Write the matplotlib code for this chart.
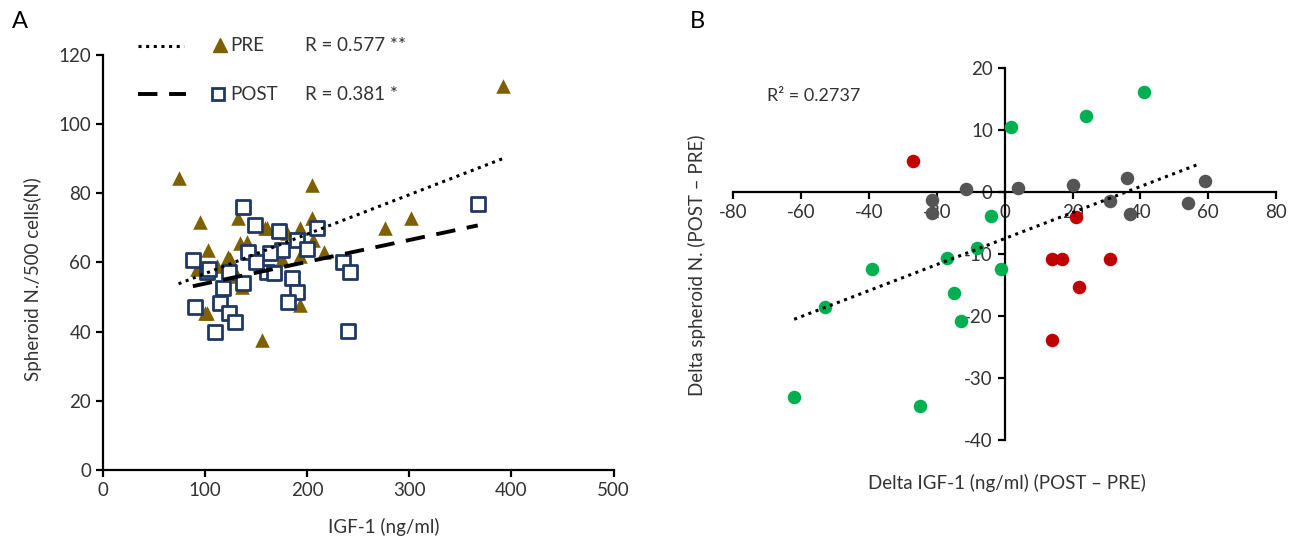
import numpy as np
import matplotlib.pyplot as plt
from matplotlib.lines import Line2D

plt.rcParams['font.family'] = ['Lato', 'DejaVu Sans']
plt.rcParams['font.size'] = 13.5
plt.rcParams['axes.unicode_minus'] = False

# Panel A data: IGF-1 (ng/ml) vs spheroid N./500 cells
pre_igf = [74, 95, 103, 100, 102, 92, 122, 124, 131, 134, 136, 141, 132, 159, 161,
           175, 180, 193, 193, 205, 205, 206, 216, 193, 156, 276, 302, 392, 148, 112]
pre_sph = [84.5, 71.7, 63.6, 45.5, 45.4, 58, 61.6, 61, 56, 65.6, 53, 66, 73, 70, 70,
           61, 68.5, 70, 47.7, 82.5, 73, 66.5, 63, 62, 37.6, 70, 73, 111, 63, 59]
post_igf = [137, 149, 172, 210, 190, 200, 175, 164, 142, 88, 102, 123, 161, 137, 118,
            185, 190, 181, 115, 90, 123, 129, 110, 235, 242, 240, 167, 367, 150, 104]
post_sph = [76, 70.9, 69, 70, 66.5, 64, 63.6, 62.7, 63, 60.7, 57.3, 57.3, 57.3, 54, 52.6,
            55.5, 51.5, 48.6, 48.3, 47, 45.4, 42.8, 40, 60, 57.3, 40.2, 57, 76.9, 60, 58]
# trend lines (slope, intercept)
pre_fit = [0.114, 45.4]
post_fit = [0.063, 47.6]

# Panel B data: delta IGF-1 vs delta spheroid N.
gray_dx = [-21.5, -21.5, -11.5, 4, 20, 31, 36, 37, 54, 59]
gray_dy = [-1.3, -3.3, 0.5, 0.6, 1.2, -1.5, 2.3, -3.5, -1.7, 1.8]
red_dx = [-27, 21, 14, 17, 31, 22, 14]
red_dy = [5, -4, -10.8, -10.8, -10.8, -15.3, -23.8]
green_dx = [2, 24, 41, -4, -8, -17, -39, -1, -15, -53, -13, -62, -25]
green_dy = [10.5, 12.3, 16.2, -3.8, -9, -10.6, -12.4, -12.4, -16.2, -18.5, -20.8, -33, -34.5]
delta_fit = [0.21, -7.5]

gold = '#7f6000'
navy = '#1f3864'
txt = '#333333'

fig = plt.figure(figsize=(13.09, 5.38), dpi=100)

# ---- Panel A
axA = fig.add_axes([0.0787, 0.1264, 0.390, 0.7714])
axA.scatter(pre_igf, pre_sph, marker='^', s=110, color=gold, linewidths=0, zorder=3)
axA.scatter(post_igf, post_sph, marker='s', s=90, facecolor='white', edgecolor=navy,
            linewidths=2, zorder=4)
xs = np.array([min(pre_igf), max(pre_igf)])
axA.plot(xs, pre_fit[0] * xs + pre_fit[1], color='black', lw=2.2, ls=(0, (1, 1.5)), zorder=5)
xs = np.array([min(post_igf), max(post_igf)])
axA.plot(xs, post_fit[0] * xs + post_fit[1], color='black', lw=2.8, ls=(0, (5, 3)), zorder=5)
axA.set_xlim(0, 500)
axA.set_ylim(0, 120)
axA.set_xticks(range(0, 501, 100))
axA.set_yticks(range(0, 121, 20))
for s in ['top', 'right']:
    axA.spines[s].set_visible(False)
for s in ['left', 'bottom']:
    axA.spines[s].set_linewidth(1.6)
axA.tick_params(width=1.6, length=5, labelsize=13.5, labelcolor=txt)
axA.set_xlabel('IGF-1 (ng/ml)', fontsize=13.5, color=txt)
axA.xaxis.set_label_coords(0.55, -0.115)
axA.set_ylabel('Spheroid N./500 cells(N)', fontsize=13.5, color=txt)
axA.yaxis.set_label_coords(-0.12, 0.46)

# legend A built by hand
fig.add_artist(Line2D([138 / 1309, 184 / 1309], [1 - 46 / 538] * 2, color='black', lw=2.2,
                      ls=(0, (1, 1.5))))
fig.add_artist(Line2D([220 / 1309], [1 - 45 / 538], marker='^', ms=10, color=gold, ls='none'))
fig.text(230 / 1309, 1 - 46 / 538, 'PRE', fontsize=13.5, va='center', color=txt)
fig.text(305 / 1309, 1 - 46 / 538, 'R = 0.577 **', fontsize=13.5, va='center', color=txt)
fig.add_artist(Line2D([138 / 1309, 186 / 1309], [1 - 94 / 538] * 2, color='black', lw=2.8,
                      ls=(0, (5, 3))))
fig.add_artist(Line2D([218 / 1309], [1 - 94 / 538], marker='s', ms=8, mfc='white', mec=navy,
                      mew=2, ls='none'))
fig.text(230 / 1309, 1 - 94 / 538, 'POST', fontsize=13.5, va='center', color=txt)
fig.text(305 / 1309, 1 - 94 / 538, 'R = 0.381 *', fontsize=13.5, va='center', color=txt)

# ---- Panel B
axB = fig.add_axes([0.560, 0.182, 0.415, 0.6915])
axB.scatter(gray_dx, gray_dy, s=95, color='#555555', linewidths=0, zorder=3)
axB.scatter(red_dx, red_dy, s=95, color='#c00000', linewidths=0, zorder=3)
axB.scatter(green_dx, green_dy, s=95, color='#00b050', linewidths=0, zorder=3)
all_dx = gray_dx + red_dx + green_dx
xs = np.array([min(all_dx), max(all_dx) - 2])
axB.plot(xs, delta_fit[0] * xs + delta_fit[1], color='black', lw=2.2, ls=(0, (1, 1.5)), zorder=4)
axB.set_xlim(-80, 80)
axB.set_ylim(-40, 20)
axB.set_xticks(range(-80, 81, 20))
axB.set_yticks(range(-40, 21, 10))
axB.spines['left'].set_position(('data', 0))
axB.spines['bottom'].set_position(('data', 0))
for s in ['top', 'right']:
    axB.spines[s].set_visible(False)
for s in ['left', 'bottom']:
    axB.spines[s].set_linewidth(1.6)
axB.tick_params(width=1.6, length=5, labelsize=13.5, labelcolor=txt)
axB.text(-70, 15.5, 'R² = 0.2737', fontsize=13, color=txt, va='center')
fig.text(697 / 1309, 1 - 265 / 538, 'Delta spheroid N. (POST \u2013 PRE)', rotation=90,
         fontsize=13.5, color=txt, ha='center', va='center')
fig.text(1007 / 1309, 1 - 483 / 538, 'Delta IGF-1 (ng/ml) (POST \u2013 PRE)',
         fontsize=13.5, color=txt, ha='center', va='center')

fig.text(12 / 1309, 1 - 22 / 538, 'A', fontsize=17, va='center')
fig.text(690 / 1309, 1 - 22 / 538, 'B', fontsize=17, va='center')

fig.savefig('out.png', dpi=100)
